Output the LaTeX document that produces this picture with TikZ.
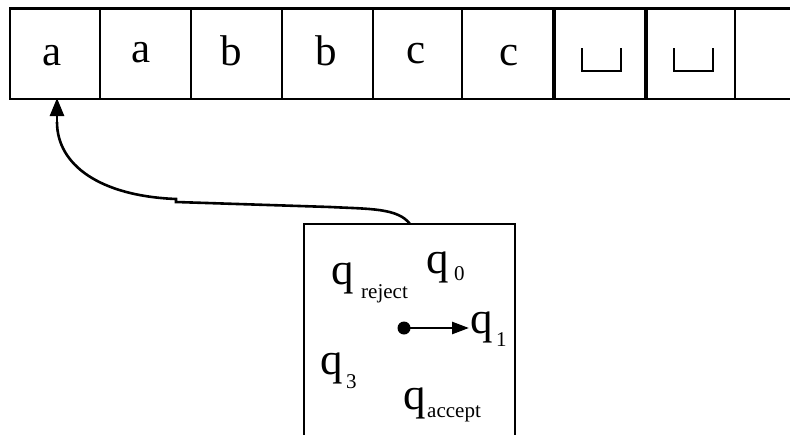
\documentclass[tikz,border=0pt]{standalone}
\usepackage{fontspec}
\setmainfont{Liberation Serif}
\usetikzlibrary{arrows.meta}
\tikzset{
  tapeline/.style={line width=2.4pt},
  thickline/.style={line width=4pt},
  tapesym/.style={inner sep=0pt, anchor=base, font=\fontsize{43}{48}\selectfont},
  qsym/.style={inner sep=0pt, anchor=base west, font=\fontsize{45}{50}\selectfont},
  subsym/.style={inner sep=0pt, anchor=base west, font=\fontsize{21}{26}\selectfont},
  blank/.style={line width=2.6pt},
}
\begin{document}
\begin{tikzpicture}[x=1pt,y=-1pt]
\useasboundingbox (0,0) rectangle (790,434);
% tape
\draw[tapeline] (790,8.5) -- (10,8.5) -- (10,99) -- (790,99);
\foreach \x in {100,191,282,373,462,735}{\draw[tapeline] (\x,8.5) -- (\x,99);}
\foreach \x in {554,646}{\draw[thickline] (\x,8.5) -- (\x,99);}
% tape symbols
\node[tapesym] (t1) at (52,65) {a};
\node[tapesym] (t2) at (141.5,62) {a};
\node[tapesym] (t3) at (231,65) {b};
\node[tapesym] (t4) at (326,65) {b};
\node[tapesym] (t5) at (416,63) {c};
\node[tapesym] (t6) at (509,65) {c};
\draw[blank] (582,48) -- (582,71) -- (621,71) -- (621,48);
\draw[blank] (674,48) -- (674,71) -- (713,71) -- (713,48);
\coordinate (head) at (57,98);
% control box
\draw[line width=2.6pt] (304,440) -- (304,224) -- (515,224) -- (515,440);
\coordinate (boxtop) at (410,224);
% head connector
\draw[line width=2.6pt] (boxtop) .. controls (398,208) and (370,209) .. (330,207) -- (176,202) -- (176,199)
  .. controls (100,196) and (57,165) .. (57,122);
\draw[line width=2.6pt, -{Triangle[length=18pt,width=14pt]}] (57,123) -- (head);
% states
\node[qsym] (qr) at (331,284) {q};
\node[subsym] (qrs) at (361,298) {reject};
\node[qsym] (q0) at (426,273) {q};
\node[subsym] (q0s) at (454,280) {0};
\node[qsym] (q1) at (470,333) {q};
\node[subsym] (q1s) at (496,346) {1};
\node[qsym] (q3) at (320,374) {q};
\node[subsym] (q3s) at (346,388) {3};
\node[qsym] (qa) at (403,409) {q};
\node[subsym] (qas) at (427,417) {accept};
% current state pointer
\coordinate (dot) at (404,328);
\coordinate (q1in) at (469,328);
\fill (dot) circle (6.5);
\draw[line width=2.6pt, -{Triangle[length=17pt,width=12pt]}] (dot) -- (q1in);
\end{tikzpicture}
\end{document}
